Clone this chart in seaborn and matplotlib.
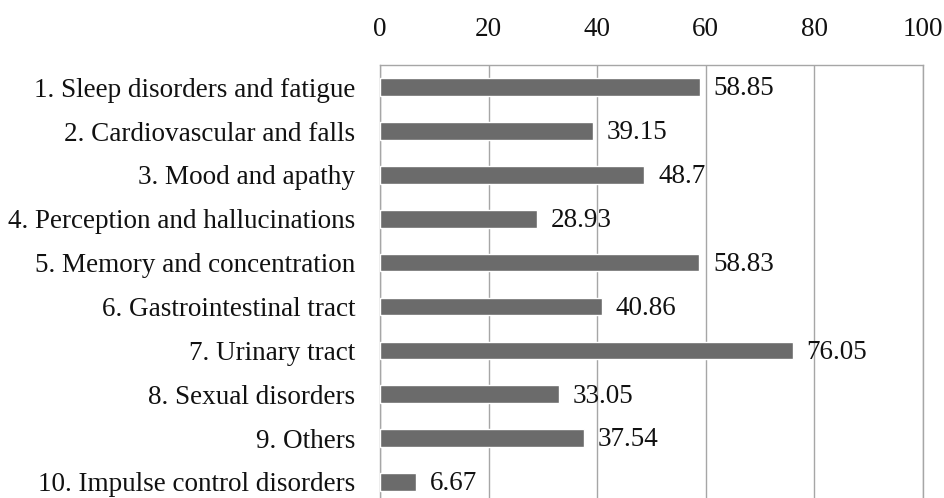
import matplotlib
matplotlib.use("Agg")
import matplotlib.pyplot as plt
import seaborn as sns
import pandas as pd

categories = [
    "1. Sleep disorders and fatigue",
    "2. Cardiovascular and falls",
    "3. Mood and apathy",
    "4. Perception and hallucinations",
    "5. Memory and concentration",
    "6. Gastrointestinal tract",
    "7. Urinary tract",
    "8. Sexual disorders",
    "9. Others",
    "10. Impulse control disorders",
]
values = [58.85, 39.15, 48.7, 28.93, 58.83, 40.86, 76.05, 33.05, 37.54, 6.67]
value_labels = ["58.85", "39.15", "48.7", "28.93", "58.83", "40.86", "76.05", "33.05", "37.54", "6.67"]
x_ticks = [0, 20, 40, 60, 80, 100]

df = pd.DataFrame({"domain": categories, "score": values})

sns.set_style("white")
plt.rcParams["font.family"] = ["Liberation Serif", "DejaVu Serif"]

FS = 19.5
fig = plt.figure(figsize=(9.44, 4.98), dpi=100)
ax = fig.add_axes([380 / 944, 0.0, (923 - 380) / 944, (498 - 65) / 498])

sns.barplot(data=df, x="score", y="domain", orient="h", color="#6b6b6b",
            saturation=1, width=0.40, ax=ax, zorder=3)

for i, (v, lab) in enumerate(zip(values, value_labels)):
    ax.text(v + 2.5, i + 0.04, lab, va="center", ha="left", fontsize=FS,
            color="#111111", zorder=4)

ax.set_xlim(0, 100)
ax.set_ylim(9.365, -0.506)
ax.set_xticks(x_ticks)
ax.xaxis.tick_top()
ax.tick_params(axis="x", length=0, labelsize=FS, pad=16.5, colors="#111111")
ax.tick_params(axis="y", length=0, labelsize=FS, pad=18, colors="#111111")
ax.set_xlabel("")
ax.set_ylabel("")
ax.xaxis.grid(True, color="#a6a6a6", linewidth=1.0, zorder=0)
ax.yaxis.grid(False)
ax.set_axisbelow(True)
for side in ["top", "left", "right"]:
    ax.spines[side].set_visible(True)
    ax.spines[side].set_color("#a6a6a6")
    ax.spines[side].set_linewidth(1.0)
ax.spines["bottom"].set_visible(False)

fig.savefig("out.png", dpi=100, facecolor="white")
